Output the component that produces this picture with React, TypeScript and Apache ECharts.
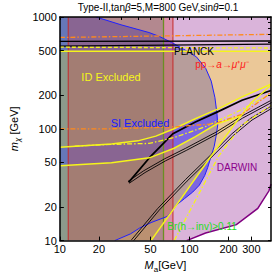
import React, { useEffect, useRef } from "react";
import * as echarts from "echarts";

// ---- axis ranges & ticks (GeV) ----
const xRange = [10, 425];
const yRange = [10, 1000];
const xTickValues = [10, 20, 50, 100, 200, 300];
const yTickValues = [10, 20, 50, 100, 200, 500, 1000];
const xMinorTicks = [10, 20, 30, 40, 50, 60, 70, 80, 90, 100, 200, 300, 400];
const yMinorTicks = [10, 20, 30, 40, 50, 60, 70, 80, 90, 100, 200, 300, 400, 500, 600, 700, 800, 900, 1000];

// ---- boundaries, points are [M_a, m_chi] in GeV ----
const darwinCurve = [[95, 10], [133, 11.7], [230, 13.9], [336, 19.4], [410, 27.9], [425, 32]];
const siBoundary = [[19, 1000], [29.7, 851], [48.8, 726], [58.5, 670], [72.4, 594], [89.8, 517], [113, 440], [133.5, 346], [147, 267], [157, 190], [163, 135], [165, 108], [160, 85], [155, 69.7], [147, 57.1], [138, 44.9], [131, 38.2], [119, 31.3], [106, 27.2], [91.3, 23.7], [80, 21], [67.8, 16.5], [51.3, 14.6], [41.4, 13], [35.1, 11.5], [26.5, 10]];
const idTopEdge = [[10, 495], [425, 495]];
const idBandUpper = [[10, 68.4], [25, 73], [40, 78], [55, 86], [76, 100], [111, 123], [163, 149], [254, 193], [425, 250]];
const idBandLower = [[10, 46.7], [25, 49.6], [49, 55], [76, 67], [111, 85], [163, 111], [250, 131]];
const idDiagonal = [[50.4, 10], [86.9, 24.1], [147, 57.1], [215, 104], [250, 131], [300, 172], [425, 245]];
const greenBand = [10, 63];
const redBand = [11.6, 74.5];
const planckUpper = [[10, 606], [425, 610]];
const planckLower = [[10, 550], [425, 572]];
const relicLoopUpper = [[33.9, 33.2], [50.4, 57.1], [74.5, 90.5], [111, 115], [163, 141], [254, 180], [425, 220]];
const relicLoopLower = [[33.9, 33.2], [44.9, 41.4], [64.6, 52.7], [94.4, 65.7], [163, 92], [254, 127], [425, 175]];
const relicDiagonal = [[36.2, 10], [57.5, 19], [94.4, 34.6], [147, 57.1], [215, 88.7], [300, 122], [425, 155]];
const idTopDashed = [[10, 537], [425, 528]];
const idBandDashed = [[13, 70], [25.2, 72.6], [48.8, 74], [76.2, 83.5], [131, 104], [254, 149], [425, 206]];
const idDiagDashed = [[76.2, 10], [168, 57.1], [254, 108], [425, 162]];
const lhcTop = [[10, 656], [425, 700]];
const lhcMid = [[10, 100], [25, 100], [76, 104], [155, 111], [254, 135], [397, 198], [425, 215]];

const lg = (v: number) => Math.log10(v);
const toLog = (p: number[]) => [lg(p[0]), lg(p[1])];

type Fill = { pts: number[][]; color: string };
type Line = { pts: number[][]; color: string; width: number; dash?: number[]; double?: boolean };

const [x0, x1] = xRange;
const [y0, y1] = yRange;

const bandEnd = idBandLower[idBandLower.length - 1][0];
const fills: Fill[] = [
  { pts: [[x0, y0], ...darwinCurve, [x1, y1], [x0, y1]], color: "#dab4da" },
  { pts: [...siBoundary, [x0, y0], [x0, y1]], color: "rgba(50,40,230,0.55)" },
  { pts: [idTopEdge[0], idTopEdge[1], ...idBandUpper.slice().reverse()], color: "rgba(255,225,70,0.45)" },
  {
    pts: [...idBandLower, ...idDiagonal.filter((p) => p[0] < bandEnd).reverse(), [x0, y0]],
    color: "rgba(255,225,70,0.45)",
  },
  { pts: [[greenBand[0], y0], [greenBand[1], y0], [greenBand[1], y1], [greenBand[0], y1]], color: "rgba(60,150,110,0.35)" },
  { pts: [[redBand[0], y0], [redBand[1], y0], [redBand[1], y1], [redBand[0], y1]], color: "rgba(220,60,60,0.3)" },
];

const YEL = "#f5f51a";
const ORA = "#ff8a1c";
const dashDot = [5, 2, 1.5, 2];
const lines: Line[] = [
  { pts: [[greenBand[1], y0], [greenBand[1], y1]], color: "#6b8e23", width: 1.3 },
  { pts: [[redBand[0], y0], [redBand[0], y1]], color: "#c42a2a", width: 1 },
  { pts: [[redBand[1], y0], [redBand[1], y1]], color: "#c42a2a", width: 1 },
  { pts: darwinCurve, color: "#800080", width: 1.5 },
  { pts: siBoundary, color: "#2020ff", width: 1 },
  { pts: planckUpper, color: "#000", width: 1.3 },
  { pts: planckLower, color: "#000", width: 1.3 },
  { pts: relicLoopUpper, color: "#000", width: 1.8 },
  { pts: relicLoopLower, color: "#000", width: 0.9, double: true },
  { pts: relicDiagonal, color: "#000", width: 0.9, double: true },
  { pts: idTopEdge, color: YEL, width: 1.5 },
  { pts: idBandUpper, color: YEL, width: 1.5 },
  { pts: idBandLower, color: YEL, width: 1.5 },
  { pts: idDiagonal, color: YEL, width: 1.5 },
  { pts: idTopDashed, color: YEL, width: 1.3, dash: [4, 2] },
  { pts: idBandDashed, color: YEL, width: 1.3, dash: dashDot },
  { pts: idDiagDashed, color: YEL, width: 1.3, dash: dashDot },
  { pts: lhcTop, color: ORA, width: 1.3, dash: dashDot },
  { pts: lhcMid, color: ORA, width: 1.3, dash: dashDot },
];

function offsetPts(pts: number[][], d: number) {
  return pts.map((p, i) => {
    const a = pts[Math.max(0, i - 1)];
    const b = pts[Math.min(pts.length - 1, i + 1)];
    const dx = b[0] - a[0];
    const dy = b[1] - a[1];
    const len = Math.hypot(dx, dy) || 1;
    return [p[0] - (dy / len) * d, p[1] + (dx / len) * d];
  });
}

const FONT = "Liberation Sans, Arial, sans-serif";

export default function App() {
  const ref = useRef<HTMLDivElement>(null);
  useEffect(() => {
    if (!ref.current) return;
    const chart = echarts.init(ref.current, null, { renderer: "svg" });
    const axisBase = {
      type: "value" as const,
      splitLine: { show: false },
      axisLine: { show: true, onZero: false, lineStyle: { color: "#000", width: 1.5 } },
      z: 10,
    };
    chart.setOption({
      animation: false,
      backgroundColor: "#fff",
      grid: { left: 44, right: 3, top: 17, bottom: 31, containLabel: false },
      xAxis: [
        {
          ...axisBase,
          position: "bottom",
          min: lg(x0),
          max: lg(x1),
          axisTick: { show: true, inside: true, length: 4, customValues: xTickValues.map(lg), lineStyle: { color: "#000" } },
          axisLabel: {
            customValues: xTickValues.map(lg),
            formatter: (v: number) => String(Math.round(Math.pow(10, v))),
            color: "#000",
            fontSize: 11,
            fontFamily: FONT,
            margin: 3,
          },
          name: "{i|M}{s|a}[GeV]",
          nameLocation: "middle",
          nameGap: 16,
          nameTextStyle: {
            color: "#000",
            fontSize: 11,
            fontFamily: FONT,
            rich: {
              i: { fontStyle: "italic", fontSize: 11, fontFamily: FONT, color: "#000" },
              s: { fontSize: 8, fontFamily: FONT, color: "#000", verticalAlign: "bottom", lineHeight: 16 },
            },
          },
        },
        {
          ...axisBase,
          position: "top",
          min: lg(x0),
          max: lg(x1),
          axisTick: { show: true, inside: true, length: 3, customValues: xMinorTicks.map(lg), lineStyle: { color: "#000" } },
          axisLabel: { show: false },
        },
      ],
      yAxis: [
        {
          ...axisBase,
          position: "left",
          min: lg(y0),
          max: lg(y1),
          axisTick: { show: true, inside: true, length: 4, customValues: yTickValues.map(lg), lineStyle: { color: "#000" } },
          axisLabel: {
            customValues: yTickValues.map(lg),
            formatter: (v: number) => String(Math.round(Math.pow(10, v))),
            color: "#000",
            fontSize: 11,
            fontFamily: FONT,
            margin: 3,
          },
          name: "{i|m}{s|χ} [GeV]",
          nameLocation: "middle",
          nameGap: 30,
          nameRotate: 90,
          nameTextStyle: {
            color: "#000",
            fontSize: 11,
            fontFamily: FONT,
            rich: {
              i: { fontStyle: "italic", fontSize: 11, fontFamily: FONT, color: "#000" },
              s: { fontSize: 8, fontStyle: "italic", fontFamily: FONT, color: "#000", verticalAlign: "bottom", lineHeight: 16 },
            },
          },
        },
        {
          ...axisBase,
          position: "right",
          min: lg(y0),
          max: lg(y1),
          axisTick: { show: true, inside: true, length: 3, customValues: yMinorTicks.map(lg), lineStyle: { color: "#000" } },
          axisLabel: { show: false },
        },
      ],
      series: [
        {
          type: "custom",
          coordinateSystem: "cartesian2d",
          clip: true,
          silent: true,
          z: 2,
          data: fills.map(() => [1.5, 2]),
          renderItem: (params: any, api: any) => {
            const f = fills[params.dataIndex];
            const points = f.pts.map((p) => api.coord(toLog(p)));
            return { type: "polygon", shape: { points }, style: { fill: f.color, stroke: null } };
          },
        },
        {
          type: "custom",
          coordinateSystem: "cartesian2d",
          clip: true,
          silent: true,
          z: 3,
          data: lines.map(() => [1.5, 2]),
          renderItem: (params: any, api: any) => {
            const l = lines[params.dataIndex];
            const points = l.pts.map((p) => api.coord(toLog(p)));
            const st = { stroke: l.color, lineWidth: l.width, lineDash: l.dash || null, fill: null };
            if (l.double) {
              return {
                type: "group",
                children: [
                  { type: "polyline", shape: { points: offsetPts(points, 1.1) }, style: st },
                  { type: "polyline", shape: { points: offsetPts(points, -1.1) }, style: st },
                ],
              };
            }
            return { type: "polyline", shape: { points }, style: st };
          },
        },
      ],
      graphic: [
        {
          type: "text",
          x: 158,
          y: 7,
          z: 100,
          style: {
            text: "Type-II,tan{i|β}=5,M=800 GeV,sin{i|θ}=0.1",
            fontSize: 10,
            fontFamily: FONT,
            fill: "#000",
            align: "center",
            verticalAlign: "middle",
            rich: { i: { fontStyle: "italic", fontSize: 10, fontFamily: FONT, fill: "#000" } },
          },
        },
        { type: "text", x: 111, y: 77, z: 100, style: { text: "ID Excluded", fontSize: 11, fontFamily: FONT, fill: "#f5f51a", align: "center", verticalAlign: "middle" } },
        { type: "text", x: 140, y: 123, z: 100, style: { text: "SI Excluded", fontSize: 11, fontFamily: FONT, fill: "#1a1aff", align: "center", verticalAlign: "middle" } },
        { type: "text", x: 194, y: 51, z: 100, style: { text: "PLANCK", fontSize: 10, fontFamily: FONT, fill: "#000", align: "center", verticalAlign: "middle" } },
        {
          type: "text",
          x: 222,
          y: 64,
          z: 100,
          style: {
            text: "pp→{i|a}→{i|μ}⁺{i|μ}⁻",
            fontSize: 10,
            fontFamily: FONT,
            fill: "#ff1a1a",
            align: "center",
            verticalAlign: "middle",
            rich: { i: { fontStyle: "italic", fontSize: 10, fontFamily: FONT, fill: "#ff1a1a" } },
          },
        },
        { type: "text", x: 237, y: 167, z: 100, style: { text: "DARWIN", fontSize: 10, fontFamily: FONT, fill: "#8b008b", align: "center", verticalAlign: "middle" } },
        { type: "text", x: 202, y: 226, z: 100, style: { text: "Br(h→inv)>0.11", fontSize: 10, fontFamily: FONT, fill: "#22dd22", align: "center", verticalAlign: "middle" } },
      ],
    });
    return () => chart.dispose();
  }, []);
  return <div ref={ref} style={{ position: "absolute", left: 0, top: 0, width: 274, height: 278 }} />;
}
